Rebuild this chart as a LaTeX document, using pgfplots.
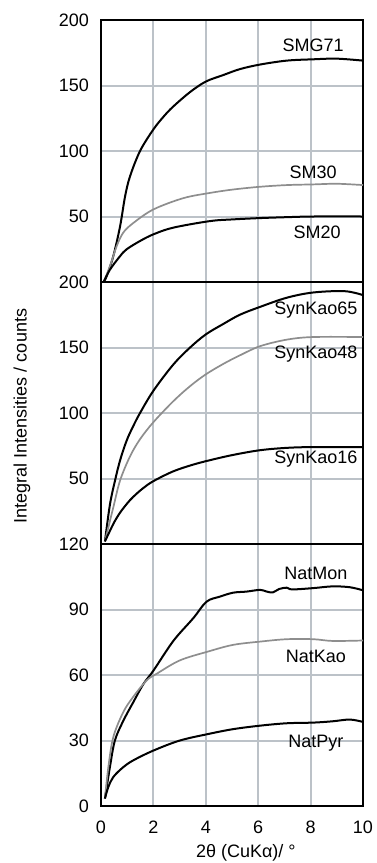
\documentclass[border=0pt]{standalone}
\usepackage{fontspec}
\setmainfont{Liberation Sans}
\usepackage{pgfplots}
\pgfplotsset{compat=1.18}

\definecolor{gridc}{HTML}{BCC2C8}
\definecolor{curvegray}{HTML}{8E8E8E}

\pgfplotsset{
  panel/.style={
    scale only axis,
    width=131pt, height=131pt,
    anchor=north west,
    xmin=0, xmax=10,
    xtick={0,2,4,6,8,10},
    grid=major,
    major grid style={gridc, line width=1pt},
    major tick length=0pt,
    axis line style={black, line width=1.1pt},
    tick label style={font=\fontsize{9}{10}\selectfont},
    yticklabel style={xshift=-2.5pt},
    /pgf/number format/assume math mode=true,
    clip=false,
  },
  blk/.style={black, line width=1pt, smooth, tension=0.55, no marks},
  gry/.style={curvegray, line width=0.85pt, smooth, tension=0.55, no marks},
}
\tikzset{lab/.style={font=\fontsize{9}{10}\selectfont, anchor=center}}

\begin{document}
\begin{tikzpicture}
\useasboundingbox (0,0) rectangle (188pt,-431.5pt);

% top panel: SM series
\begin{axis}[panel, at={(50.5pt,-10pt)},
  ymin=0, ymax=200, ytick={50,100,150,200}, xticklabels={}]
\addplot[blk] coordinates {(0.1,0) (0.22,4.6) (0.47,19.8) (0.73,42.7) (0.92,65.5) (1.11,80.8) (1.49,100) (2.0,116.5) (2.4,126.5) (2.76,134) (3.4,145) (4.0,153) (4.67,158) (5.3,162.5) (6.07,166) (7.09,169) (8.1,170) (9.0,170.5) (10,169)};
\addplot[gry] coordinates {(0.1,0) (0.34,12) (0.6,27.4) (0.85,37.7) (1.23,45) (2.0,55.4) (3.14,64) (4.16,68) (5.04,70.6) (6.07,72.7) (7.1,74) (8.1,74.5) (9.0,75) (10,74)};
\addplot[blk] coordinates {(0.1,0) (0.34,9.4) (0.73,19.8) (0.98,25) (1.49,31.3) (2.0,36.4) (2.76,41.5) (4.16,46.5) (5.04,47.8) (6.07,48.8) (7.1,49.5) (8.1,50) (10,50)};
\node[lab] at (axis cs:8.1,181) {SMG71};
\node[lab] at (axis cs:8.1,84) {SM30};
\node[lab] at (axis cs:8.25,38) {SM20};
\end{axis}

% middle panel: SynKao series
\begin{axis}[panel, at={(50.5pt,-141pt)},
  ymin=0, ymax=200, ytick={50,100,150,200}, xticklabels={}]
\addplot[blk] coordinates {(0.15,2) (0.34,30) (0.53,48) (0.73,64) (0.98,79) (1.23,90) (1.49,100) (2.0,117) (2.76,137) (3.4,150) (4.0,160) (4.67,168) (5.3,175) (6.07,181) (7.09,188) (8.1,192) (9.3,193) (10,190)};
\addplot[gry] coordinates {(0.15,2) (0.47,28) (0.73,48.6) (1.11,67) (1.49,80) (2.0,93) (2.76,109) (3.4,120.5) (4.0,129.5) (4.67,137.5) (5.3,144) (6.07,151) (7.09,156) (8.1,158) (10,158)};
\addplot[blk] coordinates {(0.15,2) (0.34,10) (0.5,16.5) (0.73,24) (1.0,31) (1.23,36) (1.6,42.5) (2.0,48) (2.76,55.5) (3.5,60.5) (4.16,64) (5.04,68) (6.07,71.6) (7.09,73.4) (8.1,74) (10,74)};
\node[lab] at (axis cs:8.2,178.7) {SynKao65};
\node[lab] at (axis cs:8.2,145) {SynKao48};
\node[lab] at (axis cs:8.2,64.6) {SynKao16};
\end{axis}

% bottom panel: natural samples
\begin{axis}[panel, at={(50.5pt,-272pt)},
  ymin=0, ymax=120, ytick={0,30,60,90,120},
  xticklabel style={yshift=-4pt},
  xlabel={2θ (CuKα)/ °},
  xlabel style={font=\fontsize{9}{10}\selectfont, at={(axis description cs:0.553,0)}, anchor=center, yshift=-23.5pt}]
\addplot[blk] coordinates {(0.15,3.4) (0.34,17.8) (0.53,30) (0.85,39) (1.23,47.5) (1.62,55.9) (2.0,62) (2.76,75.6) (3.52,86) (4.03,93.6) (4.54,95.9) (5.04,97.7) (5.55,98.2) (6.07,99) (6.3,98.3) (6.55,97.8) (6.8,99.4) (7.09,100) (7.3,99.2) (8.1,99.8) (8.84,100.6) (9.5,100.2) (10,98.8)};
\addplot[gry] coordinates {(0.15,3.4) (0.28,17.8) (0.47,31.6) (0.85,43) (1.23,50) (1.74,57.5) (2.13,60.6) (3.01,66.7) (4.1,70.8) (5.04,73.8) (6.07,75.3) (7.09,76.4) (8.1,76.4) (8.84,75.6) (10,75.8)};
\addplot[blk] coordinates {(0.15,3.4) (0.28,8.7) (0.47,13.3) (0.85,17.8) (1.23,20.9) (2.0,25.4) (3.01,30) (4.1,33) (5.04,35.2) (6.07,36.8) (7.09,37.9) (8.1,38.2) (8.84,38.8) (9.5,39.6) (10,38.5)};
\node[lab] at (axis cs:8.2,106.7) {NatMon};
\node[lab] at (axis cs:8.2,68.3) {NatKao};
\node[lab] at (axis cs:8.2,28.9) {NatPyr};
\end{axis}

\node[rotate=90, font=\fontsize{9}{10}\selectfont] at (11pt,-208pt) {Integral Intensities / counts};
\end{tikzpicture}
\end{document}
